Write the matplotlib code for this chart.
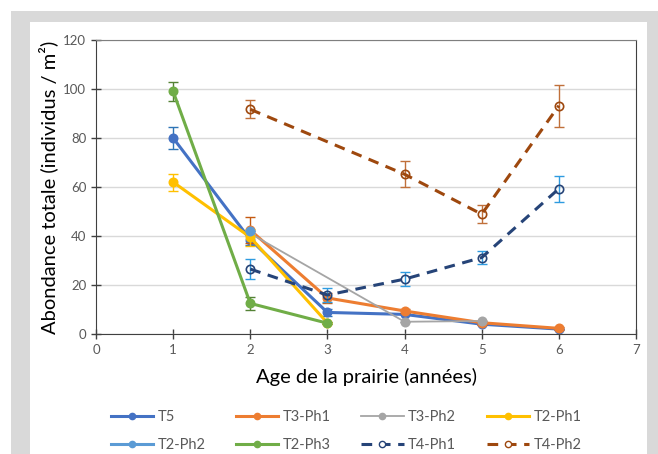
import matplotlib
matplotlib.use('Agg')
import matplotlib.pyplot as plt
from matplotlib.patches import Rectangle

plt.rcParams['font.family'] = ['Lato', 'DejaVu Sans']

# données
x_t5 = [1, 2, 3, 4, 5, 6]
y_t5 = [80, 38.5, 8.8, 8, 4, 2]
e_t5 = [4.4, 2, 1.5, 0, 0, 0]

x_t3p1 = [2, 3, 4, 5, 6]
y_t3p1 = [42.4, 14.7, 9.4, 4.6, 2.3]
e_t3p1 = [5.3, 2, 1, 0.8, 0.5]

x_t3p2 = [2, 4, 5]
y_t3p2 = [41, 5, 5.3]
e_t3p2 = [0, 0, 0]

x_t2p1 = [1, 2, 3]
y_t2p1 = [62, 39.5, 4.5]
e_t2p1 = [3.5, 3.5, 0.5]

x_t2p2 = [2]
y_t2p2 = [42]
e_t2p2 = [0]

x_t2p3 = [1, 2, 3]
y_t2p3 = [99, 12.5, 4.4]
e_t2p3 = [4, 2.5, 0.5]

x_t4p1 = [2, 3, 4, 5, 6]
y_t4p1 = [26.5, 15.9, 22.4, 31.2, 59.3]
e_t4p1 = [4, 3, 3, 2.5, 5.3]

x_t4p2 = [2, 4, 5, 6]
y_t4p2 = [91.7, 65.2, 48.9, 93.2]
e_t4p2 = [3.7, 5.4, 3.7, 8.6]

fig = plt.figure(figsize=(6.58, 4.54), dpi=100)
# cadre gris + fond blanc
fig.patches.append(Rectangle((11/658, 0), 1, 1 - 11/454, transform=fig.transFigure,
                             facecolor='#d9d9d9', edgecolor='none', zorder=-10))
fig.patches.append(Rectangle((30/658, 0), 617/658, 1 - 22/454, transform=fig.transFigure,
                             facecolor='white', edgecolor='none', zorder=-9))

ax = fig.add_axes([96/658, 1 - 334/454, 540/658, 294/454])
ax.set_facecolor('none')

series = [
    ('T5', x_t5, y_t5, e_t5, '#4472C4', '#2E75B6', '-', 'full', 2.2),
    ('T3-Ph1', x_t3p1, y_t3p1, e_t3p1, '#ED7D31', '#C55A11', '-', 'full', 2.2),
    ('T3-Ph2', x_t3p2, y_t3p2, e_t3p2, '#A5A5A5', '#A5A5A5', '-', 'full', 1.3),
    ('T2-Ph1', x_t2p1, y_t2p1, e_t2p1, '#FFC000', '#FFC000', '-', 'full', 2.2),
    ('T2-Ph2', x_t2p2, y_t2p2, e_t2p2, '#5B9BD5', '#5B9BD5', '-', 'full', 2.2),
    ('T2-Ph3', x_t2p3, y_t2p3, e_t2p3, '#70AD47', '#548235', '-', 'full', 2.2),
    ('T4-Ph1', x_t4p1, y_t4p1, e_t4p1, '#264478', '#2E9BE0', (0, (3.5, 2.5)), 'none', 2.2),
    ('T4-Ph2', x_t4p2, y_t4p2, e_t4p2, '#9E480E', '#C0703A', (0, (3.5, 2.5)), 'none', 2.2),
]

for name, xs, ys, es, col, ecol, ls, fill, lw in series:
    ax.errorbar(xs, ys, yerr=es, fmt='none', ecolor=ecol, elinewidth=1, capsize=3.5, capthick=1)
    ax.plot(xs, ys, color=col, linestyle=ls, linewidth=lw, marker='o', markersize=6,
            fillstyle=fill, markerfacecolor=col if fill == 'full' else 'none',
            markeredgecolor=col, markeredgewidth=1.2)
    ax.plot([], [], color=col, linestyle=ls, linewidth=lw, marker='o', markersize=4.5,
            markerfacecolor=col if fill == 'full' else 'white', markeredgecolor=col,
            label=name)

ax.set_xlim(0, 7)
ax.set_ylim(0, 120)
ax.set_xticks(range(0, 8))
ax.set_yticks(range(0, 121, 20))
ax.grid(axis='y', color='#d9d9d9', linewidth=1)
ax.set_axisbelow(True)
for s in ['left', 'bottom', 'right']:
    ax.spines[s].set_color('#404040')
ax.spines['top'].set_color('#7f7f7f')
ax.tick_params(direction='inout', length=7, width=1, color='#404040',
               labelcolor='#595959', labelsize=9.5)
ax.set_xlabel('Age de la prairie (années)', fontsize=14.5, labelpad=9)
ax.set_ylabel('Abondance totale (individus / m²)', fontsize=14.5, labelpad=4)

# légende remplie ligne par ligne
handles, labels = ax.get_legend_handles_labels()
order = [0, 4, 1, 5, 2, 6, 3, 7]
fig.legend([handles[i] for i in order], [labels[i] for i in order], ncol=4, loc='center',
           bbox_to_anchor=(346/658, 1 - 431/454), frameon=False, fontsize=10.5,
           handlelength=2.9, columnspacing=2.1, handletextpad=0.3, labelspacing=1.0,
           labelcolor='#595959')

fig.savefig('out.png', dpi=100)
